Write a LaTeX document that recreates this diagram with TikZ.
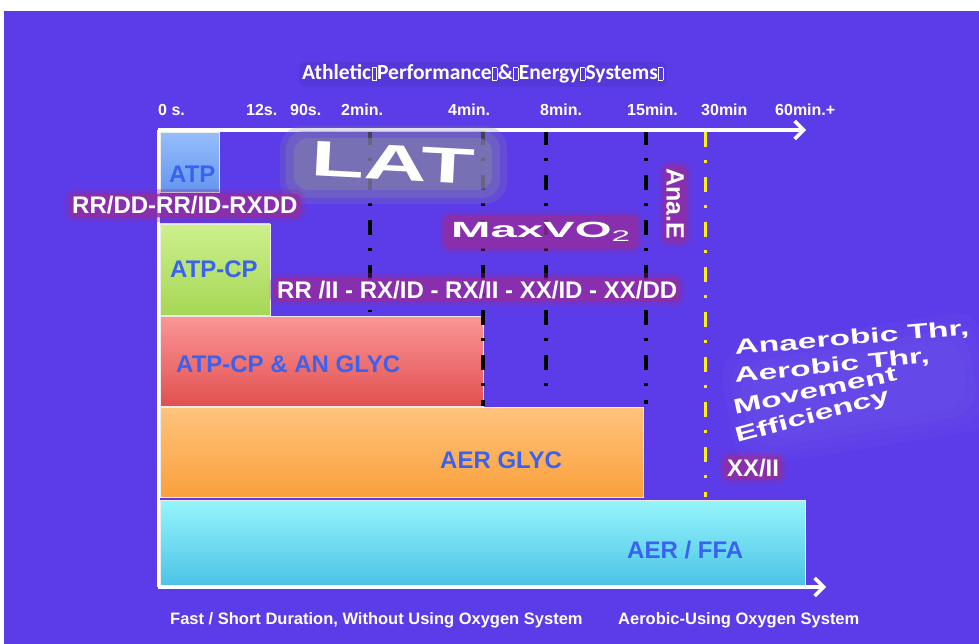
\documentclass[tikz,border=0pt]{standalone}
\usepackage{fontspec}
\setmainfont{Liberation Sans}
\newfontfamily\titlefont{Carlito}
\usetikzlibrary{arrows.meta}
\definecolor{bgpurple}{RGB}{91,60,232}
\definecolor{glowmag}{RGB}{146,44,160}
\definecolor{glowgray}{RGB}{128,126,168}
\definecolor{labelblue}{RGB}{58,98,240}
\definecolor{atptop}{RGB}{150,190,252}
\definecolor{atpbot}{RGB}{100,150,240}
\definecolor{cptop}{RGB}{205,240,140}
\definecolor{cpbot}{RGB}{165,215,85}
\definecolor{glytop}{RGB}{252,150,150}
\definecolor{glybot}{RGB}{225,80,80}
\definecolor{aertop}{RGB}{255,195,125}
\definecolor{aerbot}{RGB}{250,160,60}
\definecolor{ffatop}{RGB}{150,245,252}
\definecolor{ffabot}{RGB}{75,195,230}
\definecolor{limityellow}{RGB}{250,240,20}
% box for a glyph the font lacks
\newcommand{\nochar}{\kern0.5pt{\fboxsep=0pt\fboxrule=0.5pt\fbox{\rule{0pt}{12pt}\kern4pt}}\kern0.5pt}
\begin{document}
\begin{tikzpicture}[x=1pt,y=-1pt,
  bar/.style={draw=white!85!gray, line width=0.8pt},
  barlabel/.style={text=labelblue, font=\bfseries\fontsize{24}{24}\selectfont, anchor=base west, inner sep=0pt},
  tick/.style={text=white, font=\bfseries\fontsize{16}{16}\selectfont, anchor=base west, inner sep=0pt},
  code/.style={preaction={draw=glowmag, draw opacity=0.3, line width=9pt},
    fill=glowmag, fill opacity=0.8, text opacity=1, text=white, rounded corners=6pt,
    font=\bfseries\fontsize{24}{24}\selectfont, anchor=base west, inner sep=3pt},
  limit/.style={line width=3.5pt, dash pattern=on 15pt off 13pt on 3pt off 14pt},
  axis/.style={white, line width=3.5pt, -{Straight Barb[length=9pt,width=18pt]}},
  goal/.style={text=white, font=\bfseries\fontsize{21}{21}\selectfont, anchor=base west, inner sep=0pt}
]
\useasboundingbox (0,0) rectangle (979,644);
\fill[white] (0,0) rectangle (979,644);
\fill[bgpurple] (4,11) rectangle (979,644);

% title
\node[fill=bgpurple!75!black, fill opacity=0.25, text opacity=1, rounded corners=6pt, inner sep=3pt,
  text=white, font=\titlefont\bfseries\fontsize{21.5}{21.5}\selectfont, anchor=base west] (title) at (299,80)
  {Athletic\nochar Performance\nochar\&\nochar Energy\nochar Systems\nochar};

% time marks
\node[tick] (t0) at (158,116) {0 s.};
\node[tick] (t12s) at (246,116) {12s.};
\node[tick] (t90s) at (290,116) {90s.};
\node[tick] (t2) at (341,116) {2min.};
\node[tick] (t4) at (448,116) {4min.};
\node[tick] (t8) at (540,116) {8min.};
\node[tick] (t15) at (627,116) {15min.};
\node[tick] (t30) at (701,116) {30min};
\node[tick] (t60) at (775,116) {60min.+};

% energy systems
\shade[bar, top color=ffatop, bottom color=ffabot] (160,500) rectangle (805,586);
\shade[bar, top color=aertop, bottom color=aerbot] (160,407) rectangle (643,497);
\shade[bar, top color=glytop, bottom color=glybot] (160,316) rectangle (483,406);
\shade[bar, top color=cptop, bottom color=cpbot] (160,224) rectangle (270,315);
\shade[bar, top color=atptop, bottom color=atpbot] (160,132) rectangle (219,192);

\node[barlabel] (atp) at (169,183) {ATP};
\node[barlabel] (atpcp) at (170,277) {ATP-CP};
\node[barlabel] (anglyc) at (176,372) {ATP-CP \& AN GLYC};
\node[barlabel] (aerglyc) at (440,468) {AER GLYC};
\node[barlabel] (aerffa) at (627,558) {AER / FFA};

% limits
\draw[limit] (370,130) -- (370,312);
\draw[limit] (483,130) -- (483,406);
\draw[limit] (546,130) -- (546,398);
\draw[limit] (646,130) -- (646,404);
\draw[limit, limityellow, line width=3pt] (705,132) -- (705,497);

% axes
\coordinate (origin) at (158,130);
\coordinate (topend) at (806,130);
\coordinate (corner) at (158,587);
\coordinate (botend) at (826,587);
\draw[axis] (origin) -- (topend);
\draw[axis] (corner) -- (botend);
\draw[white, line width=3pt] (origin) -- (corner);

% zones
\fill[glowgray, opacity=0.25, rounded corners=22pt] (280,126) rectangle (507,204);
\fill[glowgray, opacity=0.35, rounded corners=18pt] (286,131) rectangle (500,198);
\fill[glowgray, opacity=0.6, rounded corners=14pt] (294,138) rectangle (492,190);
\node[text=white, font=\bfseries\fontsize{50}{50}\selectfont, inner sep=0pt, rotate=-3] (lat) at (393,163)
  {\scalebox{1.75}[1]{LAT}};

\node[code] (rrdd) at (69,214) {RR/DD-RR/ID-RXDD};
\node[code] (rrii) at (274,298) {RR /II - RX/ID - RX/II - XX/ID - XX/DD};
\node[code, inner sep=7pt] (maxvo) at (444,238)
  {\fontsize{22}{22}\selectfont\scalebox{2.15}[1]{MaxVO$_{\mathrm{2}}$}};
\node[code, font=\bfseries\fontsize{25}{25}\selectfont, rotate=-90, anchor=center] (anae) at (675,204) {Ana.E};
\node[code, anchor=center] (xxii) at (753,468) {XX/II};

\foreach \grow in {0,8,16,24}
  \fill[bgpurple!80!white, opacity=0.1, rounded corners=30pt, rotate around={9:(850,385)}]
    (725+\grow,330+\grow) rectangle (990-\grow,450-\grow);
\node[goal, rotate=5] (anaer) at (735,355) {\scalebox{1.6}[1]{Anaerobic Thr,}};
\node[goal, rotate=6] (aer) at (735,383) {\scalebox{1.6}[1]{Aerobic Thr,}};
\node[goal, rotate=12] (move) at (735,415) {\scalebox{1.6}[1]{Movement}};
\node[goal, rotate=15] (eff) at (737,443) {\scalebox{1.6}[1]{Efficiency}};

% oxygen use
\node[tick, font=\bfseries\fontsize{16.5}{16.5}\selectfont] (fast) at (170,624)
  {Fast / Short Duration, Without Using Oxygen System};
\node[tick, font=\bfseries\fontsize{16.5}{16.5}\selectfont] (aerobic) at (618,624)
  {Aerobic-Using Oxygen System};
\end{tikzpicture}
\end{document}
